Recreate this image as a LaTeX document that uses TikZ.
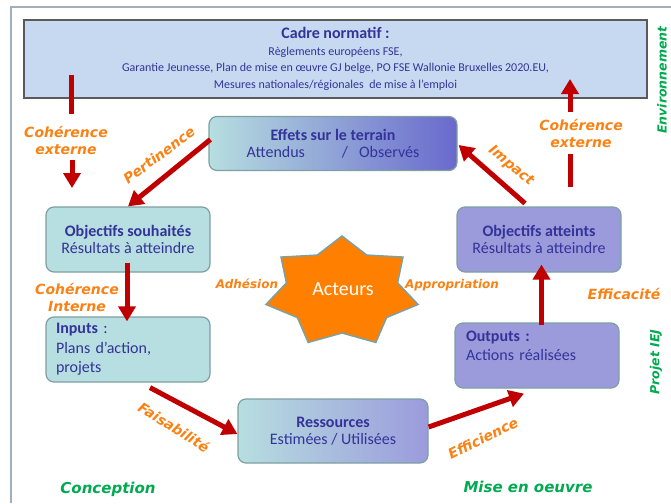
\documentclass[tikz,border=0pt]{standalone}
\usepackage{fontspec}
\setmainfont{Carlito}
\newfontfamily\verd{DejaVu Sans}
\usetikzlibrary{arrows.meta,calc}
\definecolor{boxblue}{RGB}{51,51,153}
\definecolor{tealfill}{RGB}{183,222,224}
\definecolor{tealmid}{RGB}{152,190,198}
\definecolor{purpfill}{RGB}{155,155,220}
\definecolor{effright}{RGB}{105,105,205}
\definecolor{effmid}{RGB}{145,178,205}
\definecolor{boxline}{RGB}{125,160,162}
\definecolor{cadrefill}{RGB}{198,217,240}
\definecolor{cadreline}{RGB}{90,90,90}
\definecolor{labor}{RGB}{250,130,20}
\definecolor{starfill}{RGB}{255,128,0}
\definecolor{arrred}{RGB}{192,0,0}
\definecolor{grn}{RGB}{0,170,80}
\definecolor{framec}{RGB}{160,175,185}
\tikzset{
  rbox/.style={draw=boxline, line width=1.2pt, rounded corners=8pt, inner sep=0pt,
    text=boxblue, align=center, font=\fontsize{16}{17}\selectfont},
  redarr/.style={draw=arrred, line width=5pt, -{Triangle[width=17pt,length=15pt]}},
  redline/.style={draw=arrred, line width=5pt},
  olab/.style={text=labor, font=\verd\bfseries\itshape\fontsize{14}{17}\selectfont, align=center, inner sep=0pt},
  olabs/.style={text=labor, font=\verd\bfseries\itshape\fontsize{12}{15}\selectfont, inner sep=0pt},
  glab/.style={text=grn, font=\verd\bfseries\itshape\fontsize{15}{18}\selectfont, inner sep=0pt},
  glabs/.style={text=grn, font=\verd\bfseries\itshape\fontsize{12.5}{15}\selectfont, inner sep=0pt},
  starstyle/.style={fill=starfill, draw=boxline, line width=1.5pt, line join=miter},
}
\begin{document}
\begin{tikzpicture}[x=1pt,y=-1pt]
\useasboundingbox (0,0) rectangle (671,503);
% frame
\coordinate (f1) at (11,503); \coordinate (f2) at (11,7); \coordinate (f3) at (671,7);
\draw[framec, line width=1.5pt] (f1) -- (f2) -- (f3);
% cadre normatif
\node[draw=cadreline, fill=cadrefill, line width=1.2pt, minimum width=623pt, minimum height=78pt,
  inner sep=0pt, text=boxblue, align=center, font=\fontsize{12}{16.5}\selectfont] (cadre) at (335.5,59)
  {{\fontsize{16}{16}\selectfont\bfseries Cadre normatif :}\\Règlements européens FSE,\\Garantie Jeunesse,  Plan de mise en œuvre GJ belge, PO FSE Wallonie Bruxelles 2020.EU,\\Mesures nationales/régionales\ \ de mise à l’emploi};
% boxes
\node[rbox, left color=tealfill, middle color=effmid, right color=effright, minimum width=248pt, minimum height=54pt] (effets) at (333,143.5)
  {\textbf{Effets sur le terrain}\\Attendus\hspace{37pt}/\hspace{11pt}Observés};
\node[rbox, fill=tealfill, minimum width=164pt, minimum height=65pt] (souhaites) at (128,239.5)
  {\textbf{Objectifs souhaités}\\Résultats à atteindre};
\node[rbox, fill=tealfill, minimum width=164pt, minimum height=65pt, align=left, text width=144pt,
  font=\fontsize{16}{19.5}\selectfont] (inputs) at (128,349.5)
  {\textbf{Inputs} :\\Plans d’action,\\projets};
\node[rbox, left color=tealfill, middle color=tealmid, right color=purpfill, minimum width=190pt, minimum height=64pt] (ressources) at (333,431)
  {\textbf{Ressources}\\Estimées / Utilisées};
\node[rbox, fill=purpfill, minimum width=164pt, minimum height=65pt, align=left, text width=142pt,
  font=\fontsize{16}{19}\selectfont] (outputs) at (537,355.5)
  {\textbf{Outputs :}\\Actions réalisées\\\mbox{}};
\node[rbox, fill=purpfill, minimum width=164pt, minimum height=65pt] (atteints) at (539,239.5)
  {\textbf{Objectifs atteints}\\Résultats à atteindre};
% star
\begin{scope}[shift={(342,292)}]
\draw[starstyle] (-90:78 and 56)
  \foreach \k in {0,...,6}{ -- ({-90+(\k+0.5)*360/7}:57 and 41) -- ({-90+(\k+1)*360/7}:78 and 56) } -- cycle;
\end{scope}
\node[text=white, font=\fontsize{20}{20}\selectfont, inner sep=0pt] (acteurs) at (343,289) {Acteurs};
% arrows
\coordinate (lc1) at (71,75); \coordinate (lc2) at (71,114);
\coordinate (lc3) at (72,160); \coordinate (lc4) at (72,188);
\draw[redline] (lc1) -- (lc2);
\draw[redarr] (lc3) -- (lc4);
\coordinate (rc1) at (570,187); \coordinate (rc2) at (570,154);
\coordinate (rc3) at (570,112); \coordinate (rc4) at (570,79);
\draw[redline] (rc1) -- (rc2);
\draw[redarr] (rc3) -- (rc4);
\draw[redarr] ($(effets.west)+(2,-4)$) -- (souhaites.north);
\draw[redarr] ($(souhaites.south)+(-1,-10)$) -- ($(inputs.north)+(-1,5)$);
\draw[redarr] ($(inputs.south)+(22,5)$) -- ($(ressources.west)+(0,3)$);
\draw[redarr] ($(ressources.east)+(0,-4)$) -- ($(outputs.south)+(-13,5)$);
\draw[redarr] ($(outputs.north)+(4.5,3)$) -- ($(atteints.south)+(2.5,-8)$);
\draw[redarr] ($(atteints.north)+(-14,-3)$) -- ($(effets.east)+(1,1.5)$);
% labels
\node[olab] (lcoh) at (66,140.5) {Cohérence\\externe};
\node[olab] (rcoh) at (581,133) {Cohérence\\externe};
\node[olab, rotate=37] (pert) at (159,155) {Pertinence};
\node[olab] (cint) at (77,297) {Cohérence\\Interne};
\node[olab, rotate=-32] (fais) at (174,427) {Faisabilité};
\node[olab, rotate=26] (effi) at (483,438) {Efficience};
\node[olab] (effa) at (624,294) {Efficacité};
\node[olab, rotate=-40] (imp) at (511,166) {Impact};
\node[olabs] (adh) at (247,284) {Adhésion};
\node[olabs] (appr) at (452,285) {Appropriation};
\node[glab] (conc) at (108,489) {Conception};
\node[glab] (mise) at (528,487) {Mise en oeuvre};
\node[glabs, rotate=90] (env) at (662,80) {Environnement};
\node[glabs, rotate=90] (proj) at (656,362) {Projet IEJ};
\end{tikzpicture}
\end{document}
